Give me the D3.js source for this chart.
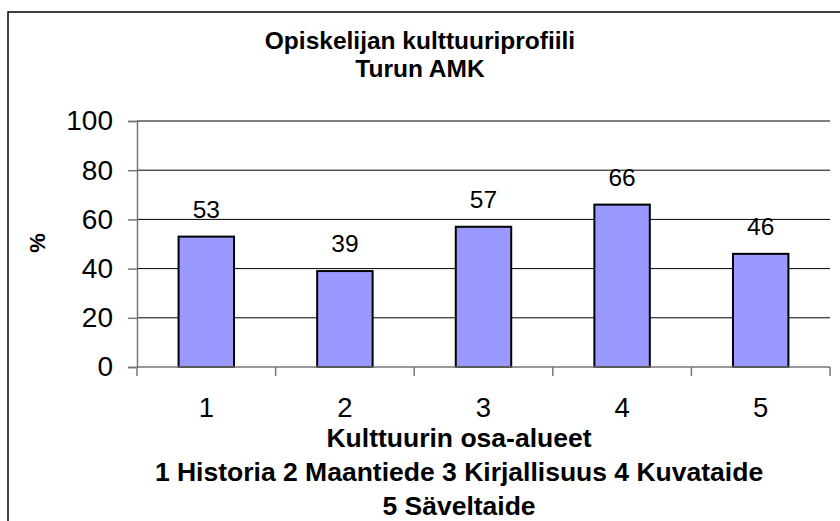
<!DOCTYPE html>
<html>
<head>
<meta charset="utf-8">
<script src="https://cdn.jsdelivr.net/npm/d3@7"></script>
<style>
  body { margin: 0; background: #fff; }
  text { font-family: "Liberation Sans", Arial, sans-serif; }
</style>
</head>
<body>
<svg></svg>
<script>
var width = 840,
  height = 521;

// data
var categories = ["1", "2", "3", "4", "5"];
var values = [53, 39, 57, 66, 46];
var yTicks = [0, 20, 40, 60, 80, 100];
var titleLines = ["Opiskelijan kulttuuriprofiili", "Turun AMK"];
var xTitleLines = ["Kulttuurin osa-alueet", "1 Historia 2 Maantiede 3 Kirjallisuus 4 Kuvataide", "5 Säveltaide"];

var margin = {left: 137, right: 10, top: 121, bottom: 154};

var svg = d3.select("svg")
  .attr("width", width)
  .attr("height", height);

// outer border (runs off the right and bottom edge)
svg.append("rect")
  .attr("x", 8).attr("y", 12)
  .attr("width", 900).attr("height", 600)
  .attr("fill", "none")
  .attr("stroke", "#000")
  .attr("stroke-width", 1.5);

var x = d3.scaleBand()
  .domain(categories)
  .range([margin.left, width - margin.right])
  .paddingInner(0.6)
  .paddingOuter(0.3);

var y = d3.scaleLinear()
  .domain([0, 100])
  .range([height - margin.bottom, margin.top]);

// gridlines
svg.append("g")
  .selectAll("line")
  .data(yTicks.filter(function (d) { return d > 0; }))
  .enter().append("line")
  .attr("x1", margin.left).attr("x2", width - margin.right)
  .attr("y1", function (d) { return y(d); })
  .attr("y2", function (d) { return y(d); })
  .attr("stroke", "#000")
  .attr("stroke-width", 1);

// y axis
var yAxis = svg.append("g")
  .attr("transform", "translate(" + margin.left + ",0)")
  .call(d3.axisLeft(y).tickValues(yTicks).tickSize(9).tickPadding(15));
yAxis.select(".domain").attr("stroke", "#777").attr("stroke-width", 1.5);
yAxis.selectAll(".tick line").attr("stroke", "#777").attr("stroke-width", 1.5);
yAxis.selectAll("text")
  .style("font-size", "28px")
  .attr("fill", "#000");

// bars
svg.append("g")
  .selectAll("rect")
  .data(values)
  .enter().append("rect")
  .attr("x", function (d, i) { return x(categories[i]); })
  .attr("y", function (d) { return y(d); })
  .attr("width", x.bandwidth())
  .attr("height", function (d) { return y(0) - y(d); })
  .attr("fill", "#9999FF")
  .attr("stroke", "#000")
  .attr("stroke-width", 2);

// value labels
svg.append("g")
  .selectAll("text")
  .data(values)
  .enter().append("text")
  .attr("x", function (d, i) { return x(categories[i]) + x.bandwidth() / 2; })
  .attr("y", function (d) { return y(d) - 19; })
  .attr("text-anchor", "middle")
  .style("font-size", "24.5px")
  .text(function (d) { return d; });

// x axis: boundary ticks between categories
var step = (width - margin.right - margin.left) / categories.length;
var boundaries = d3.range(categories.length + 1);
svg.append("line")
  .attr("x1", margin.left).attr("x2", width - margin.right)
  .attr("y1", y(0)).attr("y2", y(0))
  .attr("stroke", "#777").attr("stroke-width", 1.5);
svg.append("g")
  .selectAll("line")
  .data(boundaries)
  .enter().append("line")
  .attr("x1", function (d) { return margin.left + d * step; })
  .attr("x2", function (d) { return margin.left + d * step; })
  .attr("y1", y(0)).attr("y2", y(0) + 9)
  .attr("stroke", "#777").attr("stroke-width", 1.5);

svg.append("g")
  .selectAll("text")
  .data(categories)
  .enter().append("text")
  .attr("x", function (d) { return x(d) + x.bandwidth() / 2; })
  .attr("y", y(0) + 50)
  .attr("text-anchor", "middle")
  .style("font-size", "27.5px")
  .text(function (d) { return d; });

// titles
svg.append("g")
  .selectAll("text")
  .data(titleLines)
  .enter().append("text")
  .attr("x", 420)
  .attr("y", function (d, i) { return 49 + i * 28; })
  .attr("text-anchor", "middle")
  .style("font-size", "24.5px")
  .style("font-weight", "bold")
  .text(function (d) { return d; });

svg.append("g")
  .selectAll("text")
  .data(xTitleLines)
  .enter().append("text")
  .attr("x", 459)
  .attr("y", function (d, i) { return 447 + i * 34; })
  .attr("text-anchor", "middle")
  .style("font-size", "26.5px")
  .style("font-weight", "bold")
  .text(function (d) { return d; });

svg.append("text")
  .attr("transform", "translate(45,243) rotate(-90)")
  .attr("text-anchor", "middle")
  .style("font-size", "22px")
  .style("font-weight", "bold")
  .text("%");
</script>
</body>
</html>
